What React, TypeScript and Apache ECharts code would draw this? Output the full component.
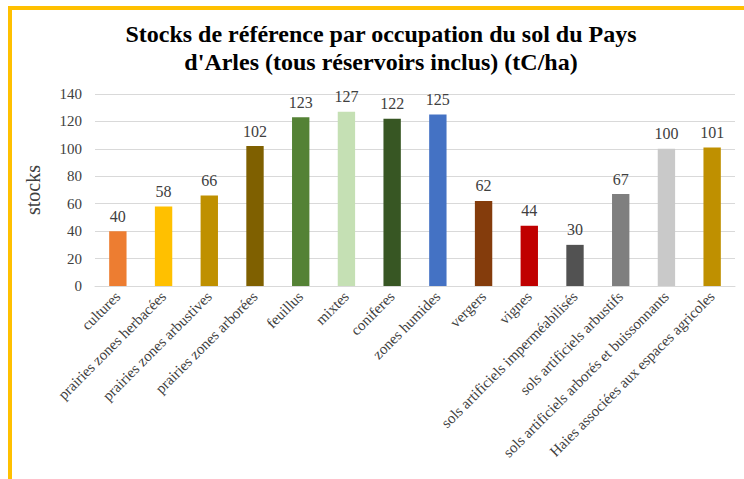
import React, { useEffect, useRef } from "react";
import * as echarts from "echarts";

const categories = [
  "cultures",
  "prairies zones herbacées",
  "prairies zones arbustives",
  "prairies zones arborées",
  "feuillus",
  "mixtes",
  "coniferes",
  "zones humides",
  "vergers",
  "vignes",
  "sols artificiels imperméabilisés",
  "sols artificiels arbustifs",
  "sols artificiels arborés et buissonnants",
  "Haies associées aux espaces agricoles",
];
const values = [40, 58, 66, 102, 123, 127, 122, 125, 62, 44, 30, 67, 100, 101];
const colors = [
  "#ED7D31", "#FFC000", "#BF9000", "#7F6000", "#548235", "#C5E0B4", "#375623",
  "#4472C4", "#843C0C", "#C00000", "#525252", "#7F7F7F", "#C9C9C9", "#BF9000",
];
const titleText = "Stocks de référence par occupation du sol du Pays\nd'Arles (tous réservoirs inclus) (tC/ha)";
const serif = "'Liberation Serif', 'DejaVu Serif', serif";

export default function App() {
  const ref = useRef<HTMLDivElement>(null);
  useEffect(() => {
    if (!ref.current) return;
    const chart = echarts.init(ref.current, undefined, { renderer: "svg" });
    chart.setOption({
      animation: false,
      backgroundColor: "#ffffff",
      graphic: [
        { type: "rect", shape: { x: 8, y: 6, width: 4, height: 473 }, style: { fill: "#FFC000" } },
        { type: "rect", shape: { x: 8, y: 6, width: 736, height: 4 }, style: { fill: "#FFC000" } },
        {
          type: "text",
          x: 381,
          y: 48,
          style: {
            text: titleText,
            fontFamily: serif,
            fontWeight: "bold",
            fontSize: 24,
            lineHeight: 28,
            fill: "#000000",
            textAlign: "center",
            textVerticalAlign: "middle",
          },
        },
      ],
      grid: { left: 95, right: 9, top: 94, bottom: 193 },
      xAxis: {
        type: "category",
        data: categories,
        axisTick: { show: false },
        axisLine: { lineStyle: { color: "#d9d9d9", width: 1 } },
        axisLabel: {
          rotate: 45,
          interval: 0,
          fontFamily: serif,
          fontSize: 15,
          color: "#404040",
          margin: 8,
        },
      },
      yAxis: {
        type: "value",
        min: 0,
        max: 140,
        interval: 20,
        name: "stocks",
        nameLocation: "middle",
        nameGap: 52,
        nameTextStyle: { fontFamily: serif, fontSize: 20, color: "#404040" },
        axisLine: { show: false },
        axisTick: { show: false },
        axisLabel: { fontFamily: serif, fontSize: 15, color: "#404040", margin: 13 },
        splitLine: { lineStyle: { color: "#d9d9d9", width: 1 } },
      },
      series: [
        {
          type: "bar",
          data: values.map((v, i) => ({ value: v, itemStyle: { color: colors[i] } })),
          barWidth: "38%",
          label: {
            show: true,
            position: "top",
            distance: 7,
            fontFamily: serif,
            fontSize: 16,
            color: "#404040",
          },
        },
      ],
    });
    return () => chart.dispose();
  }, []);
  return (
    <div
      ref={ref}
      style={{ position: "absolute", left: 0, top: 0, width: 744, height: 479 }}
    />
  );
}
